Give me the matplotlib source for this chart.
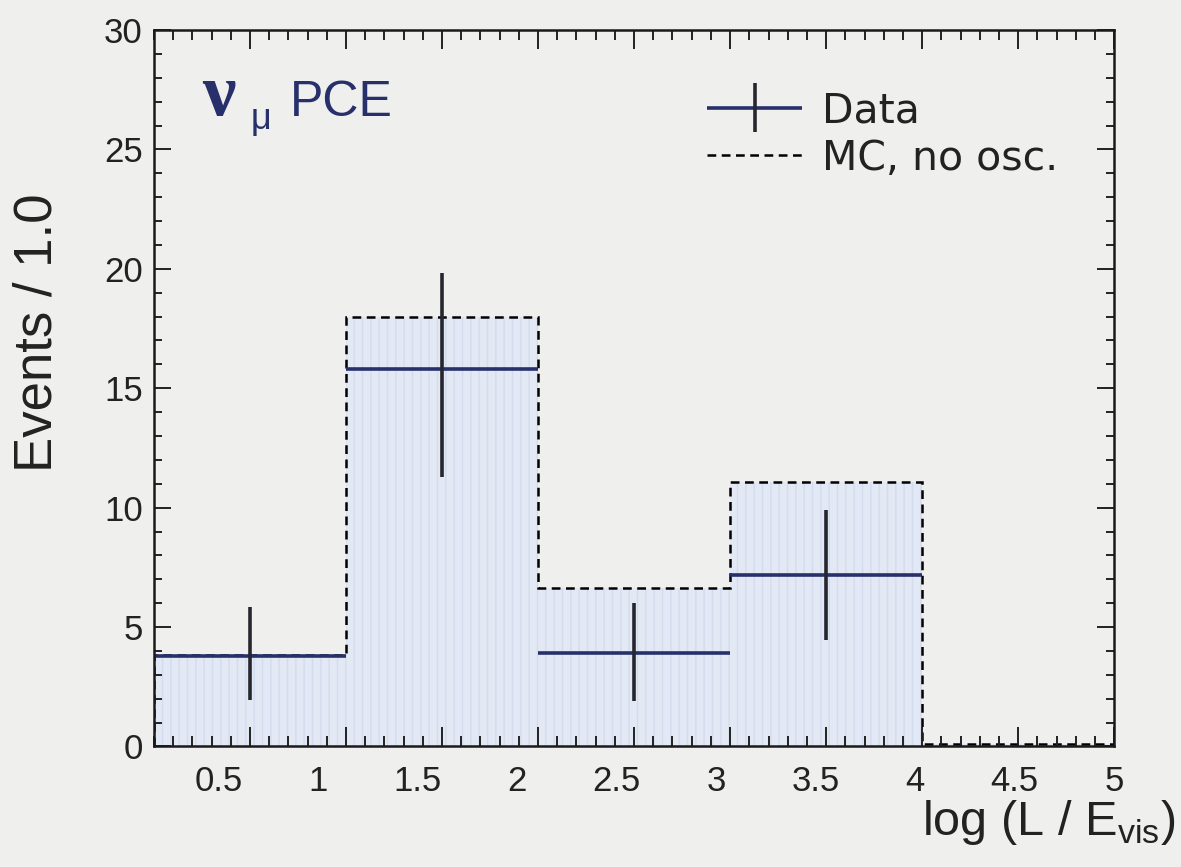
import matplotlib
matplotlib.use('Agg')
import matplotlib.pyplot as plt
import matplotlib.transforms as mtransforms
from matplotlib.ticker import MultipleLocator
from matplotlib.container import ErrorbarContainer
from matplotlib.legend_handler import HandlerTuple, HandlerErrorbar
import numpy as np

# log(L/E) histogram, nu_mu partially contained events
bin_edges = [0.0, 1.0, 2.0, 3.0, 4.0, 5.0]
mc_no_osc = [3.85, 17.97, 6.62, 11.09, 0.12]

data_x = [0.5, 1.5, 2.5, 3.5]
data_y = [3.80, 15.80, 3.93, 7.18]
data_lo = [1.95, 11.30, 1.92, 4.46]
data_hi = [5.83, 19.84, 6.00, 9.90]

bg = '#efefed'
navy = '#27306b'
plt.rcParams['font.family'] = ['Liberation Sans', 'DejaVu Sans']
plt.rcParams['mathtext.fontset'] = 'custom'
plt.rcParams['mathtext.rm'] = 'Liberation Sans'

fig = plt.figure(figsize=(11.81, 8.67), dpi=100, facecolor=bg)
ax = fig.add_axes([0.1304, 0.139, 0.813, 0.8264], facecolor=bg)

# MC expectation: shaded fill plus dashed outline
ax.stairs(mc_no_osc, bin_edges, fill=True, facecolor='#e3e9f4',
          edgecolor='#d3dcee', hatch='||', linewidth=0, baseline=0)
mc_line = ax.stairs(mc_no_osc, bin_edges, fill=False, baseline=0,
                    color='black', linestyle=(0, (3.5, 2.2)), linewidth=1.8)

# data points: bin-width bars and error bars
yerr = [np.array(data_y) - np.array(data_lo), np.array(data_hi) - np.array(data_y)]
h_bar = ax.errorbar(data_x, data_y, xerr=0.5, fmt='none', ecolor=navy,
                    elinewidth=2.6, capsize=0)
v_bar = ax.errorbar(data_x, data_y, yerr=yerr, fmt='none', ecolor='#26262e',
                    elinewidth=2.6, capsize=0)

ax.set_xlim(0, 5)
ax.set_ylim(0, 30)
xt = np.arange(0.5, 5.01, 0.5)
ax.set_xticks(xt)
ax.set_xticklabels(['0.5', '1', '1.5', '2', '2.5', '3', '3.5', '4', '4.5', '5'])
ax.xaxis.set_minor_locator(MultipleLocator(0.1))
ax.yaxis.set_major_locator(MultipleLocator(5))
ax.yaxis.set_minor_locator(MultipleLocator(1))
ax.tick_params(which='both', direction='in', top=True, right=True,
               width=1.4, color='#222222')
ax.tick_params(axis='both', which='major', labelsize=25, labelcolor='#222222')
ax.tick_params(axis='x', which='major', length=14, pad=13)
ax.tick_params(axis='x', which='minor', length=7)
ax.tick_params(axis='y', which='major', length=12, pad=8)
ax.tick_params(axis='y', which='minor', length=6)
for s in ax.spines.values():
    s.set_linewidth(1.8)
    s.set_color('#1a1a1a')

# x labels sit a little left of their ticks, more so towards the left
for lab, xv in zip(ax.get_xticklabels(), xt):
    off = mtransforms.ScaledTranslation(-(5 - xv) * 7 / 100, 0, fig.dpi_scale_trans)
    lab.set_transform(lab.get_transform() + off)

ax.set_ylabel('Events / 1.0', fontsize=38, color='#222222')
ax.yaxis.set_label_coords(-0.095, 0.577)
fig.text(0.995, 0.037, r'log (L / E$_{\mathrm{vis}}$)', fontsize=35,
         ha='right', va='baseline', color='#222222')

# channel label
ax.text(0.050, 0.882, '\u03bd', transform=ax.transAxes, fontsize=54,
        family='Liberation Serif', fontweight='bold', color=navy, va='baseline')
ax.text(0.101, 0.862, '\u03bc', transform=ax.transAxes, fontsize=26,
        family='Liberation Sans', color=navy, va='baseline')
ax.text(0.141, 0.88, 'PCE', transform=ax.transAxes, fontsize=36,
        color=navy, va='baseline')

leg = ax.legend([(h_bar, v_bar), mc_line], ['Data', 'MC, no osc.'],
                handler_map={tuple: HandlerTuple(ndivide=1),
                             ErrorbarContainer: HandlerErrorbar(xerr_size=1.15,
                                                                yerr_size=0.6)},
                loc='upper left', bbox_to_anchor=(0.538, 0.966), frameon=False,
                prop={'family': 'DejaVu Sans', 'size': 29.5}, handlelength=2.3,
                handletextpad=0.5, labelspacing=0.18)
for t in leg.get_texts():
    t.set_color('#222222')

fig.savefig('out.png', dpi=100, facecolor=bg)
